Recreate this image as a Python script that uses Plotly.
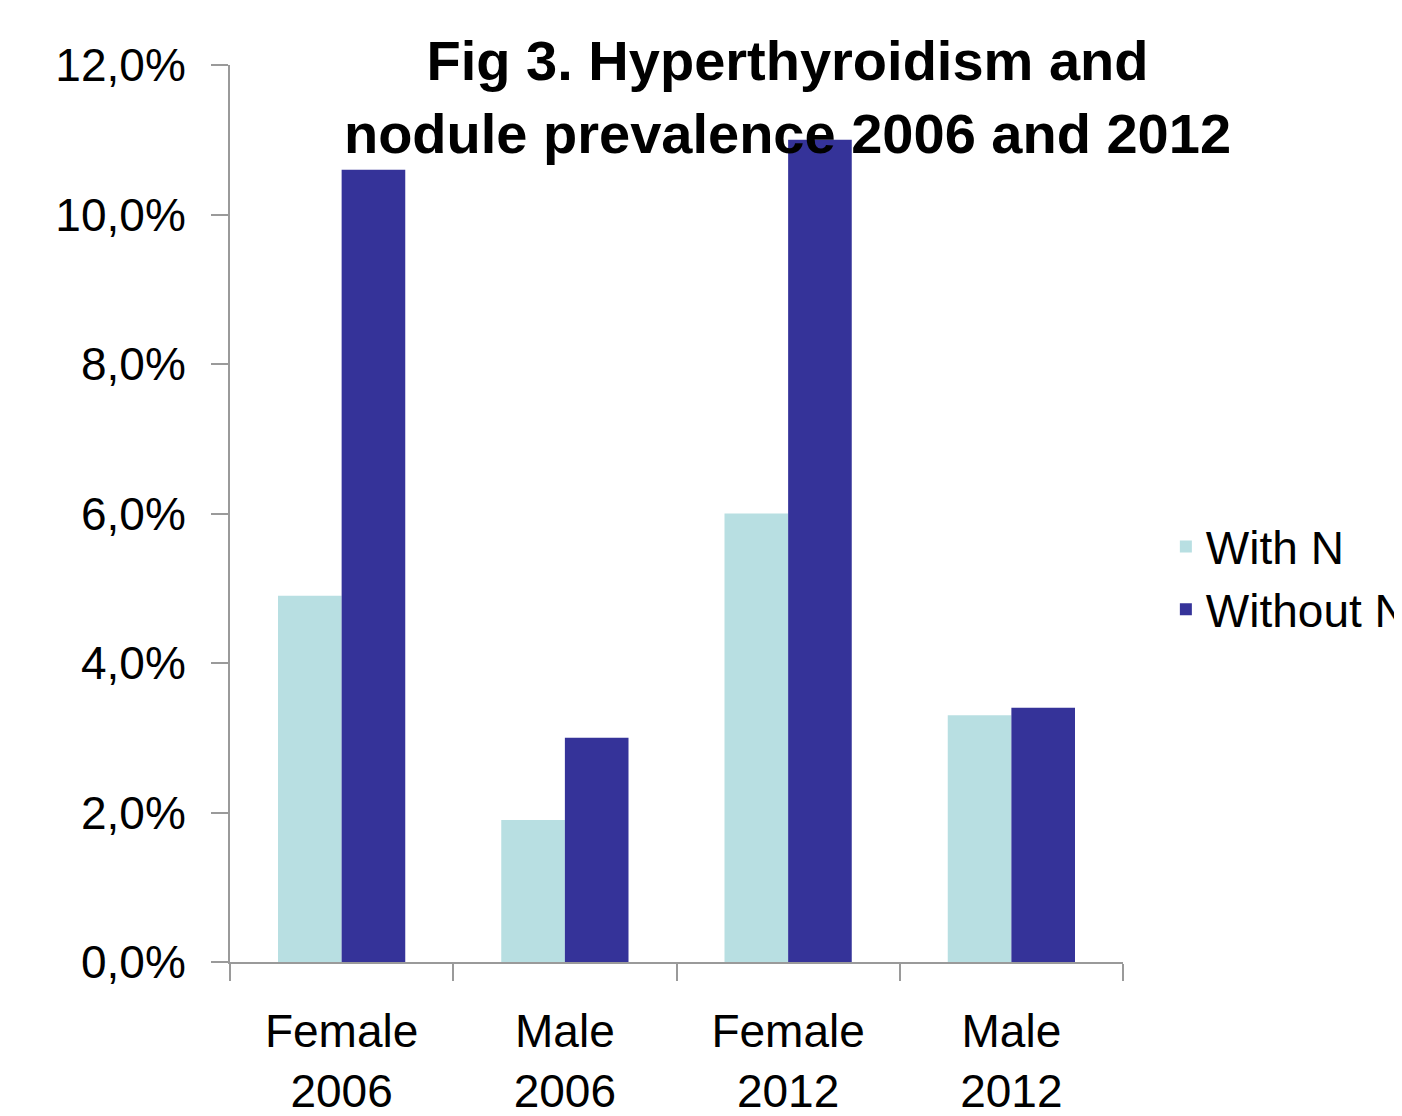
import plotly.graph_objects as go

categories = ["Female<br>2006", "Male<br>2006", "Female<br>2012", "Male<br>2012"]
with_n = [0.049, 0.019, 0.060, 0.033]
without_n = [0.106, 0.030, 0.110, 0.034]
series_names = ["With N", "Without N"]
title_text = "Fig 3. Hyperthyroidism and<br>nodule prevalence 2006 and 2012"

fig = go.Figure()
fig.add_trace(go.Bar(x=categories, y=with_n, name=series_names[0],
                     marker=dict(color="#B8DFE2", line=dict(width=0))))
fig.add_trace(go.Bar(x=categories, y=without_n, name=series_names[1],
                     marker=dict(color="#353399", line=dict(width=0))))

axis_col = "#9a9a9a"
fig.update_layout(
    width=1402, height=1116,
    margin=dict(l=222, r=287, t=57, b=162, autoexpand=False),
    paper_bgcolor="white", plot_bgcolor="white",
    barmode="group", bargap=0.43, bargroupgap=0,
    separators=",.",
    font=dict(family="Liberation Sans, Arial, sans-serif", size=46, color="black"),
    title=dict(text=title_text, x=0.556, xref="container", xanchor="center",
               y=1 - 72/1116, yref="container", yanchor="top",
               font=dict(family="Liberation Sans, Arial, sans-serif",
                         size=56, color="black", weight="bold")),
    legend=dict(x=1.048, xanchor="left", y=0.428, yanchor="middle",
                font=dict(size=46), bgcolor="rgba(0,0,0,0)", traceorder="normal",
                itemwidth=30),
    xaxis=dict(type="category", tickson="boundaries", ticks="outside", ticklen=17,
               tickwidth=2, tickcolor=axis_col, showline=True, linecolor=axis_col,
               linewidth=2, showgrid=False, zeroline=False,
               ticklabelstandoff=28, tickfont=dict(size=46)),
    yaxis=dict(range=[0, 0.12], dtick=0.02, tickformat=".1%", ticks="outside",
               ticklen=17, tickwidth=2, tickcolor=axis_col, showline=True,
               linecolor=axis_col, linewidth=2, showgrid=False, zeroline=False,
               ticklabelstandoff=16, tickfont=dict(size=46)),
)

fig.write_html("out.html")
